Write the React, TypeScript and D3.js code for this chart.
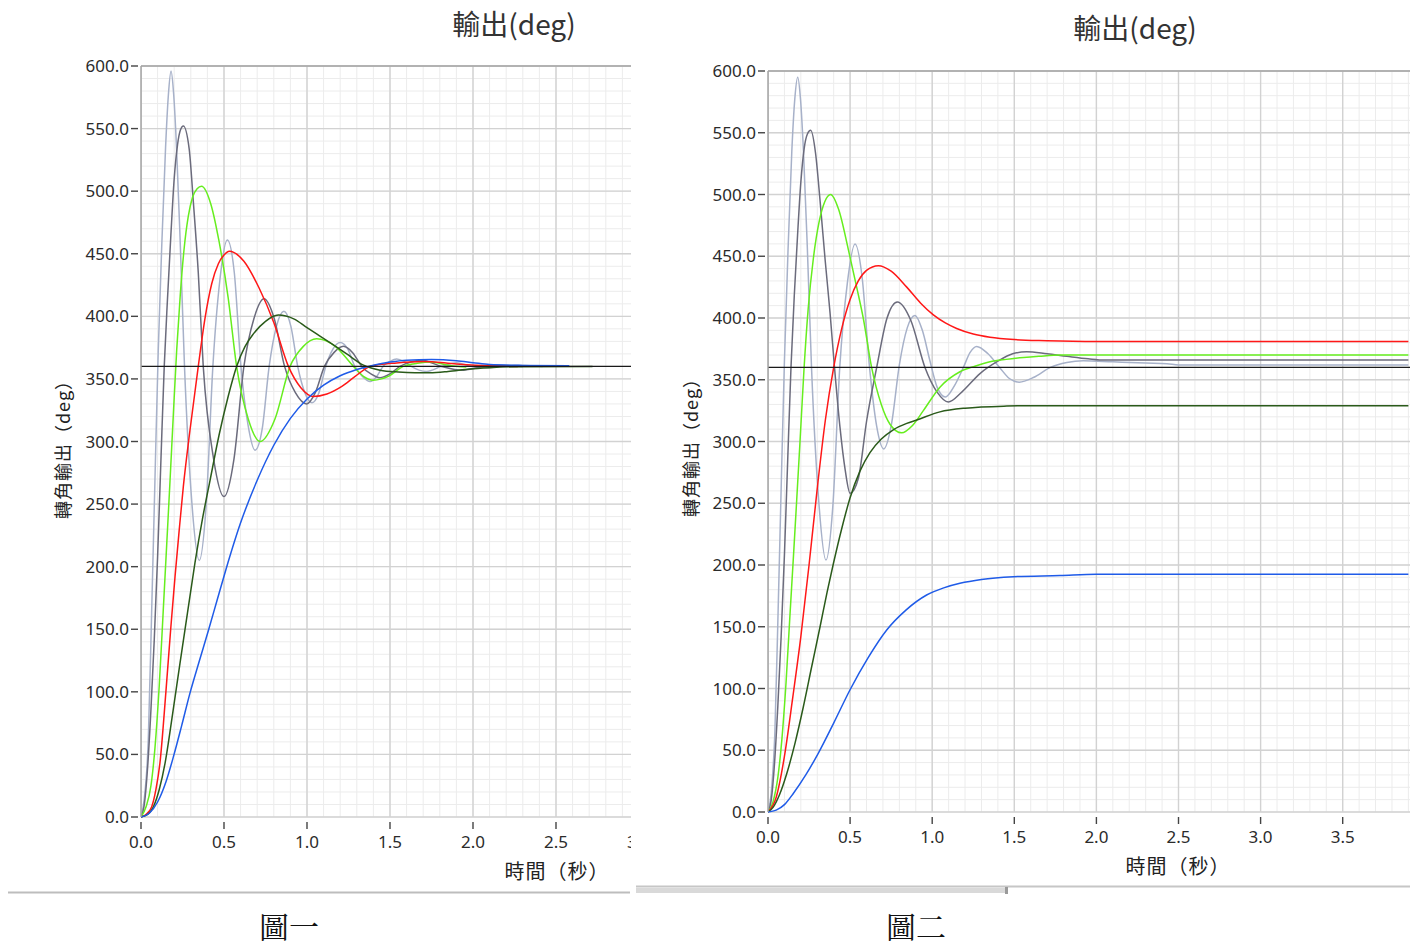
import React, { useEffect, useRef } from 'react';
import * as d3 from 'd3';

type Pt = [number, number]; // [time (s), output (deg)]

// ---- 圖一 : all responses settle on the 360 deg setpoint ----
const fig1LightGrey: Pt[] = [
  [0, 0], [0.02, 15], [0.044, 62], [0.064, 163], [0.084, 269], [0.104, 373], [0.126, 460], [0.148, 535],
  [0.165, 577], [0.181, 596], [0.197, 577], [0.214, 535], [0.236, 460], [0.262, 360], [0.307, 250], [0.351, 205],
  [0.393, 250], [0.433, 360], [0.476, 430], [0.52, 461], [0.562, 435], [0.602, 360], [0.645, 313], [0.687, 293],
  [0.73, 310], [0.772, 360], [0.816, 392], [0.861, 404], [0.903, 392], [0.944, 360], [0.987, 339], [1.03, 331],
  [1.072, 339], [1.113, 360], [1.157, 374], [1.2, 379], [1.245, 374], [1.288, 360], [1.334, 352], [1.38, 348],
  [1.42, 352], [1.458, 360], [1.5, 364], [1.54, 366], [1.585, 364], [1.628, 360], [1.675, 357], [1.72, 356],
  [1.81, 360], [1.9, 363], [1.99, 360], [2.08, 359], [2.17, 360], [2.25, 361], [2.42, 360],
];
const fig1DarkGrey: Pt[] = [
  [0, 0], [0.02, 10], [0.04, 40], [0.06, 86], [0.08, 142], [0.1, 208], [0.12, 285], [0.14, 360], [0.16, 415],
  [0.18, 465], [0.2, 510], [0.22, 537], [0.238, 549], [0.255, 552], [0.29, 534], [0.315, 492], [0.345, 435],
  [0.375, 360], [0.4375, 286], [0.5, 256], [0.56, 286], [0.62, 360], [0.68, 398], [0.741, 414], [0.803, 398],
  [0.865, 360], [0.93, 339], [0.998, 330], [1.05, 339], [1.105, 360], [1.162, 371], [1.219, 376], [1.275, 371],
  [1.33, 360], [1.385, 354], [1.44, 351], [1.5, 354], [1.56, 360], [1.625, 363.5], [1.69, 365], [1.81, 360],
  [1.93, 357], [2.05, 359.5], [2.15, 361], [2.3, 360],
];
const fig1LightGreen: Pt[] = [
  [0, 0], [0.03, 8], [0.06, 25], [0.084, 55], [0.11, 105], [0.134, 165], [0.155, 218], [0.175, 269], [0.195, 322],
  [0.215, 373], [0.237, 418], [0.259, 453], [0.285, 480], [0.31, 495], [0.338, 502], [0.365, 504], [0.42, 490],
  [0.47, 460], [0.525, 415], [0.576, 360], [0.646, 318], [0.717, 300], [0.807, 318], [0.898, 360], [0.978, 376],
  [1.058, 382], [1.17, 376], [1.28, 360], [1.34, 352], [1.4, 349], [1.49, 352], [1.58, 360], [1.665, 362.5],
  [1.75, 363.5], [1.85, 361], [1.96, 359.5],
];
const fig1Red: Pt[] = [
  [0, 0], [0.03, 2], [0.064, 8], [0.09, 22], [0.114, 43], [0.15, 100], [0.18, 152], [0.205, 192], [0.23, 229],
  [0.255, 264], [0.295, 309], [0.345, 360], [0.385, 398], [0.426, 426], [0.466, 442], [0.5, 449], [0.532, 452],
  [0.62, 444], [0.71, 423], [0.8, 395], [0.888, 360], [0.963, 343], [1.038, 336], [1.12, 338], [1.21, 344],
  [1.29, 352], [1.38, 360], [1.54, 362.8], [1.7, 364], [1.9, 362], [2.1, 360.5], [2.27, 360],
];
const fig1DarkGreen: Pt[] = [
  [0, 0], [0.04, 2], [0.074, 8], [0.11, 22], [0.145, 43], [0.19, 82], [0.235, 123], [0.28, 163], [0.325, 203],
  [0.37, 238], [0.416, 269], [0.47, 305], [0.525, 336], [0.576, 360], [0.627, 376], [0.677, 386], [0.75, 396],
  [0.827, 401], [0.92, 398], [1.0, 391], [1.058, 386], [1.15, 378], [1.239, 370], [1.34, 361], [1.44, 357],
  [1.55, 355.5], [1.65, 355], [1.74, 355], [1.85, 356], [1.98, 358], [2.1, 359], [2.3, 359.8], [2.72, 360],
];
const fig1Blue: Pt[] = [
  [0, 0], [0.05, 3], [0.1, 12], [0.15, 28], [0.195, 48], [0.245, 73], [0.295, 99], [0.35, 124], [0.406, 149],
  [0.46, 174], [0.51, 197], [0.6, 235], [0.7, 269], [0.8, 297], [0.9, 318.5], [1.0, 334], [1.1, 345],
  [1.2, 352.5], [1.3, 357.5], [1.4, 361], [1.5, 363.5], [1.6, 365], [1.75, 365.5], [1.9, 364.5], [2.0, 363],
  [2.1, 361.5], [2.3, 360.8], [2.58, 360.5],
];

// ---- 圖二 : same inputs, responses settle on different values ----
const fig2LightGrey: Pt[] = [
  [0, 0], [0.02, 16], [0.042, 65], [0.062, 165], [0.082, 272], [0.1, 365], [0.122, 455], [0.145, 535], [0.163, 577],
  [0.181, 595], [0.198, 577], [0.216, 535], [0.24, 455], [0.265, 360], [0.31, 250], [0.353, 204], [0.395, 248],
  [0.437, 360], [0.483, 428], [0.53, 460], [0.574, 432], [0.617, 362], [0.661, 313], [0.705, 294], [0.752, 314],
  [0.8, 362], [0.848, 392], [0.895, 402], [0.94, 390], [0.985, 366], [1.03, 344], [1.08, 336], [1.135, 345],
  [1.19, 360], [1.23, 372], [1.271, 377], [1.34, 371], [1.41, 360], [1.47, 351], [1.53, 348], [1.62, 352],
  [1.72, 360], [1.82, 364], [1.92, 365.4], [2.1, 364.5], [2.3, 363.5], [2.43, 363], [2.5, 362], [3.9, 362],
];
const fig2DarkGrey: Pt[] = [
  [0, 0], [0.02, 10], [0.04, 40], [0.06, 86], [0.08, 142], [0.1, 208], [0.12, 285], [0.14, 360], [0.16, 418],
  [0.18, 467], [0.2, 510], [0.22, 537], [0.24, 549], [0.26, 552], [0.29, 533], [0.317, 495], [0.348, 447],
  [0.378, 404], [0.405, 360], [0.438, 312], [0.47, 277], [0.5, 258], [0.55, 270], [0.601, 317], [0.662, 360],
  [0.725, 400], [0.788, 413], [0.87, 398], [0.956, 360], [1.03, 340], [1.098, 332], [1.18, 340], [1.291, 355],
  [1.4, 365], [1.49, 371], [1.575, 372.7], [1.7, 371], [1.82, 369], [1.95, 367], [2.05, 366], [3.9, 366],
];
const fig2LightGreen: Pt[] = [
  [0, 0], [0.03, 8], [0.06, 28], [0.084, 58], [0.11, 105], [0.134, 160], [0.155, 207], [0.175, 253], [0.195, 300],
  [0.219, 358], [0.245, 408], [0.276, 448], [0.31, 477], [0.345, 494], [0.382, 500], [0.43, 488], [0.49, 455],
  [0.54, 425], [0.58, 400], [0.631, 360], [0.69, 330], [0.743, 314], [0.814, 307], [0.88, 313], [0.946, 325],
  [1.047, 344], [1.169, 356.5], [1.26, 361], [1.352, 364.6], [1.45, 366.5], [1.555, 368], [1.65, 369], [1.78, 370],
  [3.9, 370],
];
const fig2Red: Pt[] = [
  [0, 0], [0.05, 12], [0.1, 45], [0.15, 92], [0.2, 142], [0.25, 200], [0.3, 262], [0.35, 318], [0.4, 360],
  [0.45, 392], [0.5, 415], [0.55, 430], [0.6, 438.5], [0.672, 442.4], [0.75, 438], [0.845, 425], [0.93, 412],
  [1.007, 402.5], [1.08, 396], [1.149, 391.5], [1.25, 387], [1.352, 384.4], [1.5, 382.5], [1.697, 381.6],
  [2.0, 381], [3.9, 381],
];
const fig2DarkGreen: Pt[] = [
  [0, 0], [0.032, 4], [0.07, 14], [0.114, 31], [0.165, 56], [0.215, 85], [0.265, 117], [0.317, 150], [0.36, 178],
  [0.398, 201], [0.45, 230], [0.499, 254], [0.56, 276], [0.621, 291], [0.69, 302], [0.763, 309.5], [0.845, 314.7],
  [0.906, 317.4], [1.047, 324], [1.2, 327], [1.454, 328.7], [1.6, 329], [3.9, 329],
];
const fig2Blue: Pt[] = [
  [0, 0], [0.05, 1.5], [0.1, 6], [0.154, 15], [0.23, 30], [0.306, 47.5], [0.4, 72], [0.499, 98.8], [0.61, 125],
  [0.723, 147.4], [0.84, 163.5], [0.966, 175.7], [1.07, 181.5], [1.169, 185.2], [1.3, 188.3], [1.494, 190.5],
  [1.778, 191.5], [2.0, 192.5], [3.9, 192.5],
];

const setpoint = 360;
const yTicks = [0, 50, 100, 150, 200, 250, 300, 350, 400, 450, 500, 550, 600];
const fig1XTicks = [0, 0.5, 1, 1.5, 2, 2.5, 3];
const fig2XTicks = [0, 0.5, 1, 1.5, 2, 2.5, 3, 3.5];

const colors = {
  lightGrey: '#a7b1c9',
  darkGrey: '#6b6b7c',
  lightGreen: '#66ee1e',
  red: '#ff1717',
  darkGreen: '#2a5a1a',
  blue: '#1f5be8',
};

const fig1Series = [
  { data: fig1LightGrey, color: colors.lightGrey },
  { data: fig1DarkGrey, color: colors.darkGrey },
  { data: fig1LightGreen, color: colors.lightGreen },
  { data: fig1Red, color: colors.red },
  { data: fig1DarkGreen, color: colors.darkGreen },
  { data: fig1Blue, color: colors.blue },
];
const fig2Series = [
  { data: fig2LightGrey, color: colors.lightGrey },
  { data: fig2DarkGrey, color: colors.darkGrey },
  { data: fig2LightGreen, color: colors.lightGreen },
  { data: fig2Red, color: colors.red },
  { data: fig2DarkGreen, color: colors.darkGreen },
  { data: fig2Blue, color: colors.blue },
];

interface Panel {
  id: string;
  left: number;
  top: number;
  bottom: number;
  clipRight: number;
  xMax: number;
  pxPerSec: number;
  xTicks: number[];
  titleX: number;
  titleY: number;
  yLabelX: number;
  yLabelY: number;
  xLabelX: number;
  xLabelY: number;
  series: { data: Pt[]; color: string }[];
}

const panels: Panel[] = [
  {
    id: 'fig1', left: 141, top: 66, bottom: 817, clipRight: 631, xMax: 3, pxPerSec: 166, xTicks: fig1XTicks,
    titleX: 514, titleY: 35, yLabelX: 62, yLabelY: 445, xLabelX: 557, xLabelY: 879, series: fig1Series,
  },
  {
    id: 'fig2', left: 768, top: 71, bottom: 812, clipRight: 1410, xMax: 4, pxPerSec: 164.2, xTicks: fig2XTicks,
    titleX: 1135, titleY: 39, yLabelX: 690, yLabelY: 443, xLabelX: 1178, xLabelY: 874, series: fig2Series,
  },
];

const uiFont = '"Noto Sans", "Open Sans", sans-serif';
const cjkFont = '"Noto Sans CJK TC", "Noto Sans", sans-serif';

const drawPanel = (root: d3.Selection<SVGSVGElement, unknown, null, undefined>, p: Panel) => {
  const x = d3.scaleLinear().domain([0, p.xMax]).range([p.left, p.left + p.xMax * p.pxPerSec]);
  const y = d3.scaleLinear().domain([0, 600]).range([p.bottom, p.top]);

  const defs = root.append('defs');
  defs.append('clipPath').attr('id', `plot-${p.id}`)
    .append('rect')
    .attr('x', p.left).attr('y', p.top - 2)
    .attr('width', p.clipRight - p.left).attr('height', p.bottom - p.top + 4);
  defs.append('clipPath').attr('id', `panel-${p.id}`)
    .append('rect')
    .attr('x', 0).attr('y', 0)
    .attr('width', p.clipRight).attr('height', 900);

  const g = root.append('g').attr('clip-path', `url(#panel-${p.id})`);
  const plot = g.append('g').attr('clip-path', `url(#plot-${p.id})`);

  // minor grid (0.1 s, 10 deg)
  plot.selectAll('.minor-x')
    .data(d3.range(0, p.xMax + 1e-6, 0.1))
    .join('line')
    .attr('x1', d => x(d)).attr('x2', d => x(d))
    .attr('y1', p.top).attr('y2', p.bottom)
    .style('stroke', '#ececec').style('stroke-width', 1);
  plot.selectAll('.minor-y')
    .data(d3.range(0, 601, 10))
    .join('line')
    .attr('x1', p.left).attr('x2', p.clipRight)
    .attr('y1', d => y(d)).attr('y2', d => y(d))
    .style('stroke', '#ececec').style('stroke-width', 1);

  // major grid
  plot.selectAll('.major-x')
    .data(d3.range(0, p.xMax + 1e-6, 0.5))
    .join('line')
    .attr('x1', d => x(d)).attr('x2', d => x(d))
    .attr('y1', p.top).attr('y2', p.bottom)
    .style('stroke', '#d2d2d2').style('stroke-width', 1.4);
  plot.selectAll('.major-y')
    .data(yTicks)
    .join('line')
    .attr('x1', p.left).attr('x2', p.clipRight)
    .attr('y1', d => y(d)).attr('y2', d => y(d))
    .style('stroke', '#d2d2d2').style('stroke-width', 1.4);

  // response curves
  const line = d3.line<Pt>()
    .x(d => x(d[0]))
    .y(d => y(d[1]))
    .curve(d3.curveMonotoneX);

  plot.selectAll('.curve')
    .data(p.series)
    .join('path')
    .attr('d', d => line(d.data))
    .style('fill', 'none')
    .style('stroke', d => d.color)
    .style('stroke-width', 1.5);

  // setpoint
  plot.append('line')
    .attr('x1', p.left).attr('x2', p.clipRight)
    .attr('y1', y(setpoint)).attr('y2', y(setpoint))
    .style('stroke', '#1a1a1a').style('stroke-width', 1.4);

  // frame
  g.append('line')
    .attr('x1', p.left).attr('x2', p.clipRight)
    .attr('y1', p.top).attr('y2', p.top)
    .style('stroke', '#a4a4a4').style('stroke-width', 1.5);
  g.append('line')
    .attr('x1', p.left).attr('x2', p.left)
    .attr('y1', p.top).attr('y2', p.bottom)
    .style('stroke', '#a4a4a4').style('stroke-width', 1.5);

  // y axis ticks + labels
  g.selectAll('.ytick')
    .data(yTicks)
    .join('line')
    .attr('x1', p.left - 10).attr('x2', p.left - 3)
    .attr('y1', d => y(d)).attr('y2', d => y(d))
    .style('stroke', '#444').style('stroke-width', 1.4);
  g.selectAll('.ylab')
    .data(yTicks)
    .join('text')
    .attr('x', p.left - 12)
    .attr('y', d => y(d) + 6)
    .attr('text-anchor', 'end')
    .style('font-family', uiFont)
    .style('font-size', '17px')
    .style('fill', '#2b2b2b')
    .text(d => d3.format('.1f')(d));

  // x axis ticks + labels
  g.selectAll('.xtick')
    .data(p.xTicks)
    .join('line')
    .attr('x1', d => x(d)).attr('x2', d => x(d))
    .attr('y1', p.bottom + 5).attr('y2', p.bottom + 12)
    .style('stroke', '#444').style('stroke-width', 1.4);
  g.selectAll('.xlab')
    .data(p.xTicks)
    .join('text')
    .attr('x', d => x(d))
    .attr('y', p.bottom + 31)
    .attr('text-anchor', 'middle')
    .style('font-family', uiFont)
    .style('font-size', '17px')
    .style('fill', '#2b2b2b')
    .text(d => d3.format('.1f')(d));

  // titles
  g.append('text')
    .attr('x', p.titleX).attr('y', p.titleY)
    .attr('text-anchor', 'middle')
    .style('font-family', cjkFont)
    .style('font-size', '28px')
    .style('fill', '#333')
    .text('輸出(deg)');
  g.append('text')
    .attr('transform', `translate(${p.yLabelX},${p.yLabelY}) rotate(-90)`)
    .attr('text-anchor', 'middle')
    .attr('dominant-baseline', 'central')
    .style('font-family', cjkFont)
    .style('font-size', '18px')
    .style('letter-spacing', '1px')
    .style('fill', '#222')
    .text('轉角輸出（deg）');
  g.append('text')
    .attr('x', p.xLabelX).attr('y', p.xLabelY)
    .attr('text-anchor', 'middle')
    .style('font-family', cjkFont)
    .style('font-size', '20px')
    .style('letter-spacing', '1px')
    .style('fill', '#222')
    .text('時間（秒）');
};

const App: React.FC = () => {
  const svgRef = useRef<SVGSVGElement>(null);

  useEffect(() => {
    if (!svgRef.current) return;
    const svg = d3.select(svgRef.current);
    svg.selectAll('*').remove();

    svg.append('rect').attr('width', 1410).attr('height', 947).style('fill', '#fff');

    panels.forEach(p => drawPanel(svg, p));

    // window separators under each screenshot
    svg.append('line')
      .attr('x1', 8).attr('x2', 630).attr('y1', 892.5).attr('y2', 892.5)
      .style('stroke', '#bdbdbd').style('stroke-width', 2);
    svg.append('line')
      .attr('x1', 636).attr('x2', 1410).attr('y1', 886.5).attr('y2', 886.5)
      .style('stroke', '#c6c6c6').style('stroke-width', 2);
    svg.append('rect')
      .attr('x', 636).attr('y', 888).attr('width', 372).attr('height', 5)
      .style('fill', '#d9d9d9');
    svg.append('rect')
      .attr('x', 1005).attr('y', 887).attr('width', 3).attr('height', 7)
      .style('fill', '#9a9a9a');

    // captions
    const captions = [
      { text: '圖一', x: 289 },
      { text: '圖二', x: 916 },
    ];
    svg.selectAll('.caption')
      .data(captions)
      .join('text')
      .attr('x', d => d.x)
      .attr('y', 938)
      .attr('text-anchor', 'middle')
      .style('font-family', '"Noto Serif CJK TC", "PMingLiU", serif')
      .style('font-size', '30px')
      .style('fill', '#111')
      .text(d => d.text);
  }, []);

  return (
    <svg
      ref={svgRef}
      width={1410}
      height={947}
      style={{ position: 'absolute', left: 0, top: 0, display: 'block' }}
    />
  );
};

export default App;
